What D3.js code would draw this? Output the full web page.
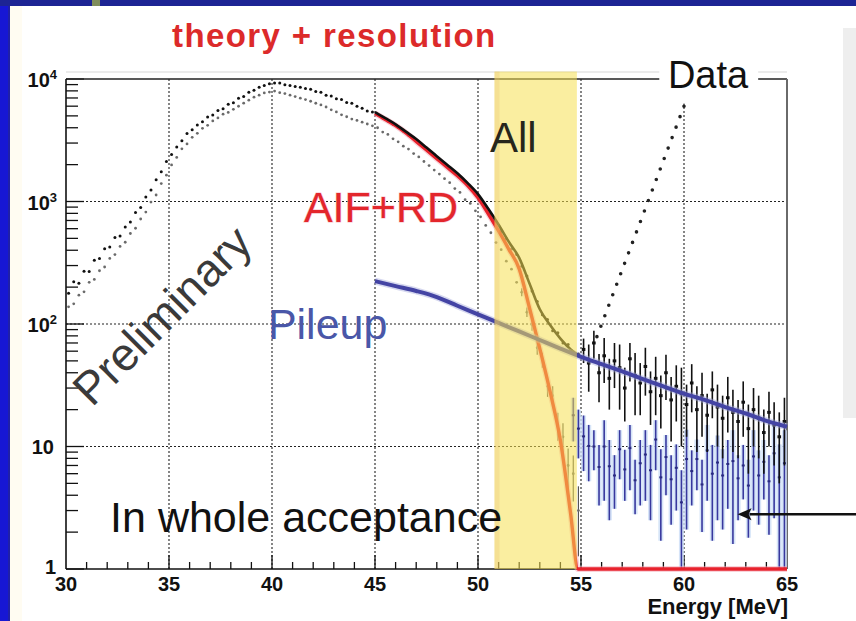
<!DOCTYPE html>
<html>
<head>
<meta charset="utf-8">
<script src="https://cdn.jsdelivr.net/npm/d3@7"></script>
<style>
  html, body { margin: 0; padding: 0; background: #fff; }
  svg { display: block; font-family: "Liberation Sans", Arial, Helvetica, sans-serif; }
</style>
</head>
<body>
<svg id="chart" width="856" height="621"></svg>
<script>
// ---------------------------------------------------------------
// Positron energy spectrum, 0.25 MeV bins, 30 - 65 MeV
// ---------------------------------------------------------------
const binWidth = 0.25;
const spectrumStart = 30;

// all events, 30 - 55 MeV
const allCounts = [
  178, 221, 215, 270, 268, 331, 342, 412, 425, 508,
  522, 618, 680, 815, 895, 1090, 1240, 1505, 1750, 2120,
  2420, 2790, 3130, 3590, 3860, 4210, 4480, 4890, 5090, 5540,
  5710, 6210, 6410, 6960, 7200, 7800, 8090, 8550, 8870, 9160,
  9290, 9260, 8980, 8850, 8670, 8550, 8380, 8260, 7910, 7800,
  7380, 7280, 6890, 6790, 6430, 6340, 6000, 5780, 5470, 5390,
  5110, 4800, 4550, 4280, 4010, 3770, 3490, 3290, 3005, 2830,
  2555, 2410, 2175, 2055, 1850, 1750, 1575, 1455, 1310, 1185,
  1040, 920, 788, 684, 568, 497, 410, 370, 296, 246,
  186, 153, 119, 109, 88, 85, 70, 68, 58, 57
];

// all events above the endpoint, 55 - 65 MeV, with their errors
const tailStart = 55;
const tailCounts = [
  62, 48, 70, 40, 55, 36, 50, 44, 30, 52,
  38, 33, 45, 28, 36, 26, 40, 24, 31, 27,
  22, 33, 20, 26, 18, 29, 21, 17, 25, 19,
  16, 23, 14, 20, 17, 13, 19, 15, 12, 16
];
const tailErr = [
  14, 20, 18, 17, 22, 16, 20, 24, 14, 18,
  20, 15, 19, 13, 18, 12, 16, 13, 15, 17,
  10, 14, 11, 14, 9, 12, 11, 9, 12, 10,
  8, 11, 8, 10, 9, 7, 9, 8, 7, 9
];

// second (lower) data set, 30 - 55 MeV
const subsetCounts = [
  138, 146, 172, 183, 219, 231, 272, 292, 343, 369,
  430, 465, 548, 605, 720, 820, 990, 1130, 1400, 1640,
  1990, 2290, 2690, 2950, 3340, 3600, 3960, 4190, 4550, 4810,
  5160, 5340, 5650, 5990, 6350, 6720, 7110, 7380, 7700, 7820,
  7970, 7730, 7610, 7380, 7190, 6970, 6790, 6580, 6340, 6140,
  5910, 5600, 5390, 5100, 4920, 4710, 4590, 4440, 4290, 4150,
  4000, 3690, 3530, 3250, 3070, 2830, 2680, 2460, 2310, 2120,
  1965, 1805, 1675, 1535, 1425, 1275, 1185, 1035, 965, 840,
  750, 638, 556, 462, 404, 326, 280, 219, 182, 125,
  98, 64, 51, 31, 26, 15, 12, 7, 6, 3
];

// weighted accidental sample, 54.5 - 65 MeV
const accStart = 54.5;
const accCounts = [
  18, 14, 12.1, 10.1, 10, 6.8, 10, 6.9, 5.8, 9.5, 6.5, 9.7,
  5.3, 7.3, 8.6, 6.4, 11.4, 5.6, 8.2, 5.4, 6.7, 3.5,
  7.9, 6.3, 7.9, 4.9, 9.3, 6, 7.4, 5.8, 7.2, 7.6,
  5.5, 7, 4.8, 8.3, 5.8, 7.5, 5.2, 8.8, 5.6, 7.3
];
const accErr = [
  7, 6, 5.8, 4.9, 3.6, 3.5, 6.4, 4.4, 2.7, 4.1, 2.9, 5.3,
  2.5, 4, 5, 3.9, 5, 3.9, 4.2, 3.1, 3.7, 2.9,
  5.8, 3, 3.5, 2.9, 5.7, 4.3, 4.9, 3.7, 4.1, 6,
  3, 3.3, 3, 5.3, 3.5, 3.8, 3.3, 6.2, 4.8, 6.3
];

// fitted components
const fitEnergy = [45, 45.5, 46, 46.5, 47, 47.5, 48, 48.5, 49, 49.5, 50,
                   50.5, 51, 51.5, 52, 52.5, 53, 53.5, 54, 54.5, 55];
const allFit = [5370, 4786, 4266, 3715, 3236, 2754, 2344, 1995, 1698, 1413, 1148,
                871, 646, 468, 347, 214, 132, 98, 76, 62, 54];
const aifRdEnergy = [45, 45.5, 46, 46.5, 47, 47.5, 48, 48.5, 49, 49.5, 50,
                     50.5, 51, 51.5, 52, 52.5, 53, 53.5, 54, 54.5, 54.85, 65];
const aifRdFit = [5248, 4677, 4169, 3631, 3090, 2630, 2239, 1905, 1622, 1349, 1072,
                  794, 575, 407, 282, 135, 63, 28, 11.2, 2.8, 1, 1];
const pileupEnergy = [45, 46, 47, 48, 49, 50, 51, 52, 53, 54, 55,
                      56, 57, 58, 59, 60, 61, 62, 63, 64, 65];
const pileupFit = [224, 204, 186, 166, 141, 120, 102, 87, 74, 63, 54,
                   47, 41, 35.5, 31, 27, 24, 21, 18.6, 16.2, 14.5];

// highlighted energy window
const windowEnergy = [50.8, 54.8];
const windowCounts = [1, 11500];

// axes
const xTickValues = [30, 35, 40, 45, 50, 55, 60, 65];
const yTickValues = [1, 10, 100, 1000, 10000];

// ---------------------------------------------------------------
const svg = d3.select("#chart");
const x = d3.scaleLinear().domain([30, 65]).range([66, 787]);
const y = d3.scaleLog().domain([1, 1e4]).range([569, 79]);
const X0 = x(30), X1 = x(65), Y0 = y(1), Y1 = y(1e4);

// slide background
svg.append("rect").attr("width", 856).attr("height", 621).attr("fill", "#ffffff");
svg.append("rect").attr("x", 0).attr("y", 0).attr("width", 10).attr("height", 621).attr("fill", "#1717d4");
svg.append("rect").attr("x", 8).attr("y", 0).attr("width", 2).attr("height", 621).attr("fill", "#2020a8");
svg.append("rect").attr("x", 0).attr("y", 0).attr("width", 856).attr("height", 6).attr("fill", "#1d2494");
svg.append("rect").attr("x", 92).attr("y", 0).attr("width", 8).attr("height", 6).attr("fill", "#7f8d5c");
svg.append("rect").attr("x", 10).attr("y", 6).attr("width", 12).attr("height", 615).attr("fill", "#fffcf2");
svg.append("rect").attr("x", 843).attr("y", 28).attr("width", 13).attr("height", 390).attr("fill", "#eeeeee");

// title
svg.append("text")
  .attr("x", 172).attr("y", 47)
  .attr("font-size", 33).attr("font-weight", "bold")
  .attr("letter-spacing", 1.4)
  .attr("fill", "#dc2a2a")
  .text("theory + resolution");

// faint edge above the frame
svg.append("line").attr("x1", X0).attr("x2", X1).attr("y1", 72).attr("y2", 72)
  .attr("stroke", "#e4e4e4").attr("stroke-width", 1.5);

// grid
const grid = svg.append("g").attr("stroke", "#222").attr("stroke-width", 1.1)
  .attr("stroke-dasharray", "2,2");
[35, 40, 45, 50, 55, 60].forEach(e => {
  grid.append("line").attr("x1", x(e)).attr("x2", x(e)).attr("y1", Y1).attr("y2", Y0);
});
[10, 100, 1000].forEach(v => {
  grid.append("line").attr("x1", X0).attr("x2", X1).attr("y1", y(v)).attr("y2", y(v));
});

// ticks
const ticks = svg.append("g").attr("stroke", "#111").attr("stroke-width", 1.3);
for (let k = 0; k < 4; k++) {
  for (let m = 2; m <= 9; m++) {
    const v = m * Math.pow(10, k);
    ticks.append("line").attr("x1", X0).attr("x2", X0 + 12).attr("y1", y(v)).attr("y2", y(v));
  }
}
yTickValues.forEach(v => {
  ticks.append("line").attr("x1", X0).attr("x2", X0 + 18).attr("y1", y(v)).attr("y2", y(v));
});
for (let e = 31; e < 65; e++) {
  const len = e % 5 === 0 ? 14 : 7;
  ticks.append("line").attr("x1", x(e)).attr("x2", x(e)).attr("y1", Y0).attr("y2", Y0 - len);
}

// frame
svg.append("line").attr("x1", X0).attr("x2", X1).attr("y1", Y1).attr("y2", Y1)
  .attr("stroke", "#222").attr("stroke-width", 1.4);
svg.append("line").attr("x1", X1).attr("x2", X1).attr("y1", Y1).attr("y2", Y0)
  .attr("stroke", "#6a6a6a").attr("stroke-width", 2);
svg.append("line").attr("x1", X0).attr("x2", X0).attr("y1", Y1).attr("y2", Y0)
  .attr("stroke", "#111").attr("stroke-width", 1.6);
svg.append("line").attr("x1", X0).attr("x2", X1).attr("y1", Y0).attr("y2", Y0)
  .attr("stroke", "#111").attr("stroke-width", 1.6);

// tick labels
svg.append("g").selectAll("text").data(xTickValues).join("text")
  .attr("x", d => x(d)).attr("y", Y0 + 22)
  .attr("text-anchor", "middle").attr("font-size", 20).attr("font-weight", "bold")
  .attr("fill", "#111").text(d => d);

const yl = svg.append("g").attr("font-size", 20).attr("font-weight", "bold").attr("fill", "#111");
yTickValues.forEach(v => {
  const exp = Math.round(Math.log10(v));
  const t = yl.append("text").attr("text-anchor", "end");
  if (exp >= 2) {
    t.attr("x", X0 - 9).attr("y", y(v) + 8);
    t.append("tspan").text("10");
    t.append("tspan").attr("font-size", 13).attr("dy", -8).text(exp);
  } else if (exp === 1) {
    t.attr("x", X0 - 12).attr("y", y(v) + 7).text("10");
  } else {
    t.attr("x", X0 - 10).attr("y", y(v) + 5).text("1");
  }
});

svg.append("text")
  .attr("x", X1 + 1).attr("y", 614)
  .attr("text-anchor", "end").attr("font-size", 22).attr("font-weight", "bold")
  .attr("fill", "#111").text("Energy [MeV]");

// ---------------------------------------------------------------
// data
const binCenter = (start, i) => start + binWidth * (i + 0.5);
const allPts = allCounts.map((v, i) => ({ e: binCenter(spectrumStart, i), v }));
const subsetPts = subsetCounts.map((v, i) => ({ e: binCenter(spectrumStart, i), v, err: Math.sqrt(v) }));
const tailPts = tailCounts.map((v, i) => ({ e: binCenter(tailStart, i), v, err: tailErr[i] }));
const accPts = accCounts.map((v, i) => ({ e: binCenter(accStart, i), v, err: accErr[i] }));
const lowY = v => y(Math.max(1, v));

// lower data set
const sub = svg.append("g");
sub.selectAll("line").data(subsetPts.filter(d => d.e > 50 && d.v < 200)).join("line")
  .attr("x1", d => x(d.e)).attr("x2", d => x(d.e))
  .attr("y1", d => y(d.v + d.err)).attr("y2", d => lowY(d.v - d.err))
  .attr("stroke", "#555").attr("stroke-width", 1.2);
sub.selectAll("circle").data(subsetPts).join("circle")
  .attr("cx", d => x(d.e)).attr("cy", d => y(d.v)).attr("r", 1.4)
  .attr("fill", "#6a6a6a");

// accidental sample
const acc = svg.append("g");
acc.selectAll("line.halo").data(accPts).join("line").attr("class", "halo")
  .attr("x1", d => x(d.e)).attr("x2", d => x(d.e))
  .attr("y1", d => y(d.v + d.err)).attr("y2", d => lowY(d.v - d.err))
  .attr("stroke", "#cfe0f7").attr("stroke-width", 5).attr("opacity", 0.85);
acc.selectAll("line.bar").data(accPts).join("line").attr("class", "bar")
  .attr("x1", d => x(d.e)).attr("x2", d => x(d.e))
  .attr("y1", d => y(d.v + d.err)).attr("y2", d => lowY(d.v - d.err))
  .attr("stroke", "#38389e").attr("stroke-width", 1.6);
acc.selectAll("rect").data(accPts).join("rect")
  .attr("x", d => x(d.e) - 1.5).attr("y", d => y(d.v) - 1)
  .attr("width", 3).attr("height", 2).attr("fill", "#2a2a80");

// all events
const all = svg.append("g");
all.selectAll("circle").data(allPts).join("circle")
  .attr("cx", d => x(d.e)).attr("cy", d => y(d.v)).attr("r", 1.5)
  .attr("fill", "#111");
all.selectAll("line").data(tailPts).join("line")
  .attr("x1", d => x(d.e)).attr("x2", d => x(d.e))
  .attr("y1", d => y(d.v + d.err)).attr("y2", d => lowY(d.v - d.err))
  .attr("stroke", "#111").attr("stroke-width", 1.6);
all.selectAll("rect").data(tailPts).join("rect")
  .attr("x", d => x(d.e) - 1.8).attr("y", d => y(d.v) - 1.5)
  .attr("width", 3.6).attr("height", 3).attr("fill", "#111");

// fitted curves
const curve = d3.line().x(d => x(d[0])).y(d => y(d[1])).curve(d3.curveMonotoneX);
const aifLine = aifRdEnergy.map((e, i) => [e, aifRdFit[i]]);
const allLine = fitEnergy.map((e, i) => [e, allFit[i]]);
const pileLine = pileupEnergy.map((e, i) => [e, pileupFit[i]]);

svg.append("path").attr("d", curve(aifLine)).attr("fill", "none")
  .attr("stroke", "#f3a5b4").attr("stroke-width", 6).attr("opacity", 0.5);
svg.append("path").attr("d", curve(aifLine)).attr("fill", "none")
  .attr("stroke", "#e8222c").attr("stroke-width", 3.4);
svg.append("path").attr("d", curve(allLine)).attr("fill", "none")
  .attr("stroke", "#101010").attr("stroke-width", 2.6);
svg.append("path").attr("d", curve(pileLine)).attr("fill", "none")
  .attr("stroke", "#a4a8dc").attr("stroke-width", 7).attr("opacity", 0.45);
svg.append("path").attr("d", curve(pileLine)).attr("fill", "none")
  .attr("stroke", "#4444a4").attr("stroke-width", 4);

// highlighted window
svg.append("rect")
  .attr("x", x(windowEnergy[0])).attr("width", x(windowEnergy[1]) - x(windowEnergy[0]))
  .attr("y", y(windowCounts[1])).attr("height", y(windowCounts[0]) - y(windowCounts[1]))
  .attr("fill", "#f6e052").attr("opacity", 0.55);
svg.append("rect")
  .attr("x", x(windowEnergy[0])).attr("width", 5)
  .attr("y", y(windowCounts[1])).attr("height", y(windowCounts[0]) - y(windowCounts[1]))
  .attr("fill", "#e8b86a").attr("opacity", 0.25);

// legend entry
svg.append("rect")
  .attr("x", x(58.8)).attr("width", x(63.6) - x(58.8))
  .attr("y", y(17000)).attr("height", y(6300) - y(17000))
  .attr("fill", "#ffffff");
svg.append("text")
  .attr("x", x(59.22)).attr("y", y(8450))
  .attr("font-size", 38).attr("fill", "#111").text("Data");
svg.append("line")
  .attr("x1", x(60.0)).attr("y1", y(6000)).attr("x2", x(55.75)).attr("y2", y(77))
  .attr("stroke", "#222").attr("stroke-width", 3.6)
  .attr("stroke-linecap", "round").attr("stroke-dasharray", "0,11.2");

// annotations
const label = (txt, e, v, size, color) =>
  svg.append("text").attr("x", x(e)).attr("y", y(v))
    .attr("font-size", size).attr("fill", color).text(txt);

label("AIF+RD", 41.55, 680, 43, "#e3262c")
  .attr("stroke", "#f7c4cc").attr("stroke-width", 1.2).attr("paint-order", "stroke");
label("All", 50.58, 2535, 42, "#26261c");
label("Pileup", 39.8, 75.5, 43, "#4a57a8");
label("In whole acceptance", 32.14, 2.0, 43, "#111");
svg.append("text")
  .attr("transform", `translate(${x(31.26)},${y(20.6)}) rotate(-45)`)
  .attr("font-size", 46).attr("fill", "#3a3a3a").text("Preliminary");

// pointer arrow
const arrowY = y(2.8);
svg.append("line")
  .attr("x1", x(68.4)).attr("x2", x(62.6) + 12).attr("y1", arrowY).attr("y2", arrowY)
  .attr("stroke", "#111").attr("stroke-width", 2.6);
svg.append("path")
  .attr("d", `M${x(62.6)},${arrowY} l14,-6 l-3,6 l3,6 z`)
  .attr("fill", "#111");
</script>
</body>
</html>
